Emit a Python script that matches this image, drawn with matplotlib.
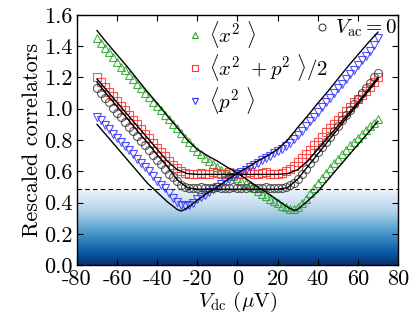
import numpy as np
import matplotlib
matplotlib.use("Agg")
import matplotlib.pyplot as plt

plt.rcParams['mathtext.fontset'] = 'cm'
plt.rcParams['font.family'] = 'serif'
plt.rcParams['font.serif'] = ['cmr10', 'DejaVu Serif']
plt.rcParams['axes.unicode_minus'] = False
plt.rcParams['axes.formatter.use_mathtext'] = True

# ---------------- data ----------------
v_data = [-70, -68, -66, -64, -62, -60, -58, -56, -54, -52, -50, -48, -46, -44, -42, -40,
          -38, -36, -34, -32, -30, -28, -26, -24, -22, -20, -18, -16, -14, -12, -10, -8,
          -6, -4, -2, 0, 2, 4, 6, 8, 10, 12, 14, 16, 18, 20, 22, 24, 26, 28, 30, 32, 34,
          36, 38, 40, 42, 44, 46, 48, 50, 52, 54, 56, 58, 60, 62, 64, 66, 68, 70]

x2_data = [1.45, 1.42, 1.39, 1.36, 1.33, 1.30, 1.27, 1.245, 1.215, 1.19, 1.16, 1.13, 1.10,
           1.075, 1.045, 1.02, 0.99, 0.96, 0.935, 0.905, 0.875, 0.845, 0.815, 0.785, 0.755,
           0.73, 0.71, 0.685, 0.665, 0.645, 0.625, 0.61, 0.595, 0.58, 0.57, 0.555, 0.54,
           0.525, 0.51, 0.49, 0.475, 0.455, 0.44, 0.425, 0.41, 0.395, 0.38, 0.37, 0.36,
           0.36, 0.37, 0.395, 0.425, 0.46, 0.49, 0.525, 0.555, 0.59, 0.62, 0.65, 0.68,
           0.71, 0.735, 0.765, 0.79, 0.815, 0.84, 0.865, 0.89, 0.91, 0.935]

avg_data = [1.20, 1.17, 1.14, 1.11, 1.08, 1.05, 1.02, 0.99, 0.96, 0.93, 0.90, 0.87, 0.84,
            0.81, 0.78, 0.75, 0.72, 0.695, 0.665, 0.64, 0.62, 0.60, 0.59, 0.585, 0.58,
            0.585, 0.59, 0.58, 0.585, 0.595, 0.59, 0.58, 0.585, 0.595, 0.59, 0.585, 0.58,
            0.59, 0.595, 0.585, 0.58, 0.59, 0.595, 0.585, 0.58, 0.585, 0.59, 0.60, 0.615,
            0.635, 0.66, 0.685, 0.71, 0.735, 0.765, 0.79, 0.82, 0.85, 0.875, 0.905, 0.93,
            0.955, 0.985, 1.01, 1.04, 1.065, 1.09, 1.115, 1.14, 1.17, 1.20]

p2_data = [0.95, 0.925, 0.895, 0.87, 0.84, 0.815, 0.79, 0.76, 0.735, 0.71, 0.68, 0.655,
           0.63, 0.60, 0.57, 0.54, 0.515, 0.49, 0.46, 0.43, 0.405, 0.385, 0.38, 0.385,
           0.40, 0.42, 0.435, 0.45, 0.47, 0.485, 0.50, 0.52, 0.535, 0.55, 0.565, 0.58,
           0.595, 0.61, 0.625, 0.64, 0.655, 0.67, 0.685, 0.70, 0.715, 0.73, 0.745, 0.76,
           0.78, 0.805, 0.83, 0.86, 0.89, 0.92, 0.95, 0.98, 1.01, 1.04, 1.07, 1.10, 1.13,
           1.16, 1.19, 1.22, 1.25, 1.28, 1.31, 1.34, 1.37, 1.41, 1.45]

vac0_data = [1.13, 1.10, 1.07, 1.04, 1.005, 0.975, 0.945, 0.915, 0.885, 0.855, 0.825,
             0.795, 0.765, 0.735, 0.705, 0.675, 0.645, 0.615, 0.585, 0.56, 0.535, 0.515,
             0.50, 0.495, 0.49, 0.495, 0.50, 0.495, 0.49, 0.495, 0.50, 0.495, 0.49, 0.495,
             0.50, 0.495, 0.49, 0.495, 0.50, 0.495, 0.49, 0.495, 0.50, 0.495, 0.49, 0.495,
             0.495, 0.50, 0.51, 0.525, 0.55, 0.58, 0.615, 0.65, 0.685, 0.72, 0.755, 0.79,
             0.82, 0.855, 0.89, 0.925, 0.96, 0.995, 1.03, 1.065, 1.10, 1.13, 1.165, 1.20, 1.23]

v_theory = [-70, -65, -60, -55, -50, -45, -40, -35, -30, -25, -20, -15, -10, -5, 0,
            5, 10, 15, 20, 25, 28, 30, 35, 40, 45, 50, 55, 60, 65, 70]
x2_theory = [1.50, 1.42, 1.345, 1.27, 1.19, 1.11, 1.035, 0.955, 0.88, 0.80, 0.74, 0.70,
             0.665, 0.625, 0.588, 0.545, 0.50, 0.46, 0.415, 0.37, 0.35, 0.355, 0.41,
             0.47, 0.545, 0.62, 0.695, 0.77, 0.845, 0.92]
v_theory_p = [-70, -65, -60, -55, -50, -45, -40, -35, -30, -28, -25, -20, -15, -10, -5,
              0, 5, 10, 15, 20, 25, 30, 35, 40, 45, 50, 55, 60, 65, 70]
p2_theory = [0.90, 0.825, 0.75, 0.675, 0.60, 0.525, 0.465, 0.405, 0.355, 0.345, 0.365,
             0.415, 0.46, 0.50, 0.545, 0.588, 0.625, 0.665, 0.70, 0.74, 0.80, 0.88, 0.955,
             1.035, 1.11, 1.19, 1.27, 1.345, 1.42, 1.49]
v_theory_avg = [-70, -65, -60, -55, -50, -45, -40, -35, -30, -25, -20, -15, -10, -5, 0,
                5, 10, 15, 20, 25, 30, 35, 40, 45, 50, 55, 60, 65, 70]
avg_theory = [1.19, 1.115, 1.04, 0.965, 0.89, 0.815, 0.74, 0.665, 0.61, 0.585, 0.58,
              0.58, 0.58, 0.58, 0.58, 0.58, 0.58, 0.58, 0.58, 0.585, 0.61, 0.665,
              0.74, 0.815, 0.89, 0.965, 1.04, 1.12, 1.20]
vac0_theory = [1.17, 1.09, 1.015, 0.94, 0.86, 0.785, 0.705, 0.63, 0.545, 0.495, 0.485,
               0.485, 0.485, 0.485, 0.485, 0.485, 0.485, 0.485, 0.485, 0.495, 0.55,
               0.63, 0.71, 0.79, 0.87, 0.95, 1.03, 1.11, 1.19]

threshold = 0.485

x_ticks = [-80, -60, -40, -20, 0, 20, 40, 60, 80]
y_ticks = [0.0, 0.2, 0.4, 0.6, 0.8, 1.0, 1.2, 1.4, 1.6]

# ---------------- figure ----------------
fig = plt.figure(figsize=(4.15, 3.12), dpi=100)
ax = fig.add_axes([0.1855, 0.1506, 0.7735, 0.8014])

grad = np.linspace(1, 0.05, 256).reshape(-1, 1)
ax.imshow(grad, extent=[-80, 80, 0, threshold], aspect='auto', cmap='Blues',
          vmin=0, vmax=1, origin='lower', zorder=0, interpolation='bicubic')
ax.axhline(threshold, color='k', ls='--', lw=0.8, dashes=(4, 3), zorder=1)

ms = 5.8
mew = 0.8
green = (0.15, 0.65, 0.15)
red = (1.0, 0.2, 0.2)
blue = (0.2, 0.2, 1.0)
gray = (0.25, 0.25, 0.25)
h_x2, = ax.plot(v_data, x2_data, ls='none', marker='^', ms=ms, mfc='none',
                mec=green, mew=mew, alpha=0.85, zorder=2)
h_avg, = ax.plot(v_data, avg_data, ls='none', marker='s', ms=ms, mfc='none',
                 mec=red, mew=mew, alpha=0.85, zorder=2)
h_p2, = ax.plot(v_data, p2_data, ls='none', marker='v', ms=ms, mfc='none',
                mec=blue, mew=mew, alpha=0.85, zorder=2)
h_vac, = ax.plot(v_data, vac0_data, ls='none', marker='o', ms=ms, mfc='none',
                 mec=gray, mew=mew, alpha=0.85, zorder=2)

lw = 1.0
ax.plot(v_theory, x2_theory, color='k', lw=lw, zorder=3)
ax.plot(v_theory_p, p2_theory, color='k', lw=lw, zorder=3)
ax.plot(v_theory_avg, avg_theory, color='k', lw=lw, zorder=3)
ax.plot(v_theory_avg, vac0_theory, color='k', lw=lw, zorder=3)

ax.set_xlim(-80, 80)
ax.set_ylim(0, 1.6)
ax.set_xticks(x_ticks)
ax.set_xticklabels([str(t) for t in x_ticks])
ax.set_yticks(y_ticks)
ax.set_yticklabels(['%.1f' % t for t in y_ticks])
ax.tick_params(direction='in', top=True, right=True, labelsize=16, length=4, width=0.8,
               pad=3)
for s in ax.spines.values():
    s.set_linewidth(1.0)

ax.set_xlabel(r'$V_{\rm dc}$ ($\mu$V)', fontsize=15, labelpad=0.5)
ax.set_ylabel('Rescaled correlators', fontsize=16, labelpad=2)

leg_handles = [
    plt.Line2D([], [], ls='none', marker='^', ms=5, mfc='none', mec=green, mew=0.8),
    plt.Line2D([], [], ls='none', marker='s', ms=5, mfc='none', mec=red, mew=0.8),
    plt.Line2D([], [], ls='none', marker='v', ms=5, mfc='none', mec=blue, mew=0.8),
]
leg1 = ax.legend(leg_handles,
                 [r'$\langle x^2\ \rangle$', r'$\langle x^2\ + p^2\ \rangle/2$',
                  r'$\langle p^2\ \rangle$'],
                 loc='upper left', bbox_to_anchor=(0.315, 1.025), frameon=False,
                 fontsize=15, handlelength=0.6, handletextpad=0.4, labelspacing=0.1,
                 borderaxespad=0.1)
ax.add_artist(leg1)
vac_handle = plt.Line2D([], [], ls='none', marker='o', ms=5, mfc='none', mec=gray, mew=0.8)
leg2 = ax.legend([vac_handle], [r'$V_{\rm ac} = 0$'], loc='upper right',
                 bbox_to_anchor=(1.03, 1.03), frameon=False, fontsize=15,
                 handlelength=0.6, handletextpad=0.3, borderaxespad=0.1)

fig.savefig('out.png', dpi=100)
